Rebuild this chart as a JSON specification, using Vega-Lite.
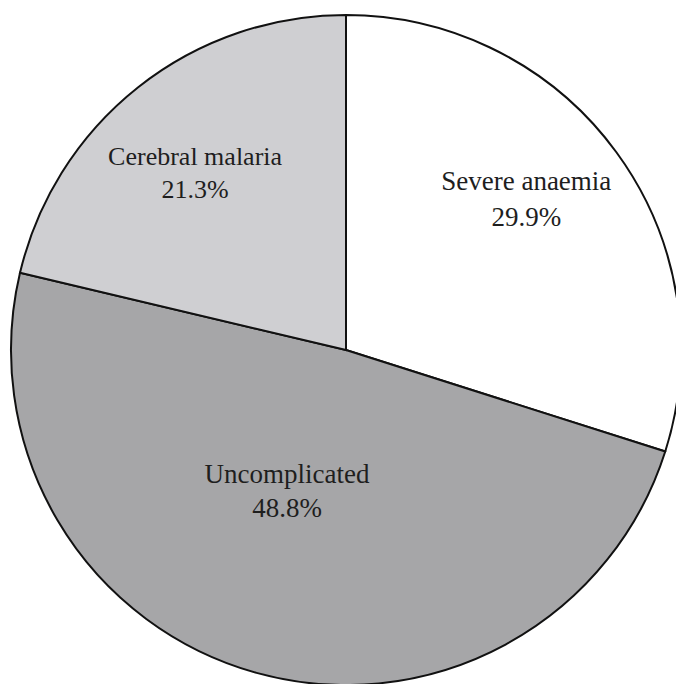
{
  "$schema": "https://vega.github.io/schema/vega-lite/v6.json",
  "width": 676,
  "height": 684,
  "autosize": {"type": "fit", "contains": "padding"},
  "padding": {"left": 16, "top": 16, "right": 0, "bottom": 0},
  "background": "white",
  "config": {
    "view": {"stroke": null}
  },
  "data": {
    "values": [
      {"category": "Severe anaemia", "share": 0.299},
      {"category": "Uncomplicated", "share": 0.488},
      {"category": "Cerebral malaria", "share": 0.213}
    ]
  },
  "transform": [
    {"calculate": "datum.category + '\\n' + format(datum.share, '.1%')", "as": "label"}
  ],
  "encoding": {
    "theta": {
      "field": "share",
      "type": "quantitative",
      "stack": true,
      "scale": {"domain": [0, 1], "range": [-1.33832, 4.94487]}
    },
    "color": {
      "field": "category",
      "type": "nominal",
      "legend": null,
      "scale": {
        "domain": ["Cerebral malaria", "Severe anaemia", "Uncomplicated"],
        "range": ["#cfcfd2", "#ffffff", "#a6a6a8"]
      }
    }
  },
  "layer": [
    {
      "mark": {"type": "arc", "outerRadius": 335, "stroke": "#111111", "strokeWidth": 2}
    },
    {
      "mark": {"type": "text", "radius": 232, "dx": -7, "dy": -23, "font": "Liberation Serif", "fontSize": 27, "lineHeight": 36, "lineBreak": "\n", "baseline": "alphabetic", "align": "center"},
      "encoding": {
        "color": {"value": "#1e1e1e"},
        "text": {"condition": {"test": "datum.category === 'Severe anaemia'", "field": "label"}, "value": ""}
      }
    },
    {
      "mark": {"type": "text", "radius": 232, "dx": -7, "dy": -3, "font": "Liberation Serif", "fontSize": 26, "lineHeight": 33, "lineBreak": "\n", "baseline": "alphabetic", "align": "center"},
      "encoding": {
        "color": {"value": "#1e1e1e"},
        "text": {"condition": {"test": "datum.category === 'Cerebral malaria'", "field": "label"}, "value": ""}
      }
    },
    {
      "mark": {"type": "text", "radius": 146, "dx": -20, "dy": -8, "font": "Liberation Serif", "fontSize": 27, "lineHeight": 34, "lineBreak": "\n", "baseline": "alphabetic", "align": "center"},
      "encoding": {
        "color": {"value": "#1e1e1e"},
        "text": {"condition": {"test": "datum.category === 'Uncomplicated'", "field": "label"}, "value": ""}
      }
    }
  ]
}
